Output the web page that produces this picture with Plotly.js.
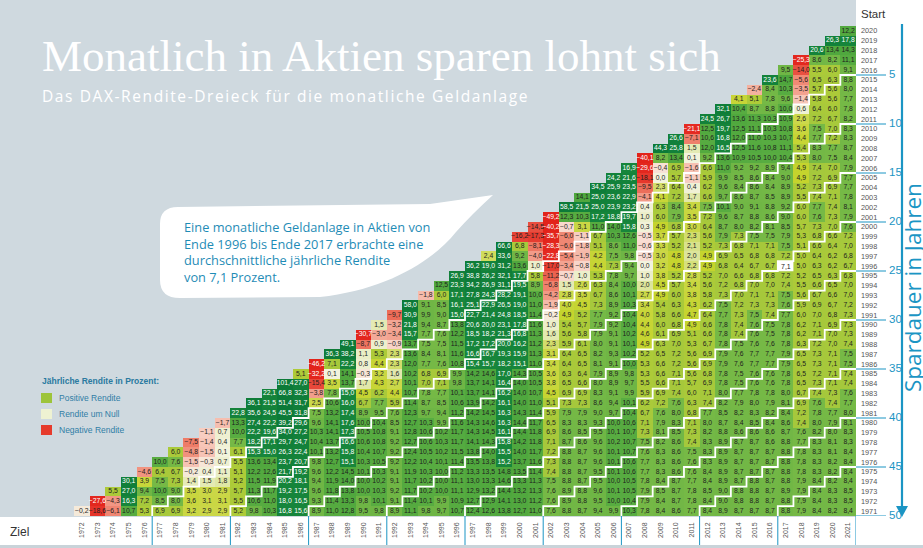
<!DOCTYPE html>
<html><head><meta charset="utf-8">
<script src="https://cdn.plot.ly/plotly-3.0.1.min.js"></script>
<style>html,body{margin:0;padding:0;background:#fff}#chart{width:923px;height:548px}</style>
</head><body><div id="chart"></div>
<script>
// ---- DATA: annual return (%) of a monthly savings plan, start year (row) -> end year (columns S+1 .. 2021)
const start2020 = [12.2];
const start2019 = [26.3, 17.8];
const start2018 = [20.6, 13.4, 14.3];
const start2017 = [-25.3, 8.6, 8.2, 11.1];
const start2016 = [9.5, -14.0, 5.5, 6.0, 9.1];
const start2015 = [23.6, 14.7, -5.6, 6.5, 6.3, 8.8];
const start2014 = [-2.4, 8.4, 10.3, -3.5, 5.7, 5.6, 8.0];
const start2013 = [4.1, 5.1, 7.8, 9.6, -1.4, 5.8, 5.6, 7.7];
const start2012 = [32.1, 10.4, 8.7, 8.8, 10.0, 0.6, 6.4, 6.0, 7.8];
const start2011 = [24.5, 26.7, 13.6, 11.3, 10.3, 10.9, 2.6, 7.2, 6.7, 8.2];
const start2010 = [-21.1, 12.5, 19.7, 12.5, 11.1, 10.3, 10.8, 3.6, 7.5, 7.0, 8.3];
const start2009 = [26.6, -7.1, 10.6, 16.8, 12.0, 11.0, 10.3, 10.7, 4.4, 7.7, 7.2, 8.3];
const start2008 = [44.3, 25.8, 1.5, 12.0, 16.5, 12.5, 11.6, 10.8, 11.1, 5.4, 8.3, 7.7, 8.7];
const start2007 = [-40.1, 8.2, 13.4, 0.1, 9.2, 13.6, 10.9, 10.5, 10.0, 10.4, 5.3, 8.0, 7.5, 8.4];
const start2006 = [16.9, -29.6, -0.4, 6.9, -1.6, 6.6, 11.0, 9.2, 9.2, 8.9, 9.4, 4.9, 7.4, 7.0, 7.9];
const start2005 = [24.2, 21.6, -18.1, 0.0, 5.7, -1.1, 5.9, 9.9, 8.5, 8.6, 8.4, 9.0, 4.9, 7.2, 6.9, 7.7];
const start2004 = [34.5, 25.9, 23.5, -9.5, 2.3, 6.4, 0.4, 6.2, 9.6, 8.4, 8.6, 8.4, 8.9, 5.2, 7.3, 6.9, 7.7];
const start2003 = [14.1, 25.0, 23.6, 22.9, -4.1, 4.1, 7.2, 1.7, 6.6, 9.7, 8.6, 8.7, 8.5, 8.9, 5.5, 7.4, 7.1, 7.8];
const start2002 = [58.5, 21.5, 25.0, 23.9, 23.2, 0.4, 6.3, 8.4, 3.4, 7.5, 10.1, 9.0, 9.1, 8.8, 9.2, 6.0, 7.7, 7.4, 8.1];
const start2001 = [-49.2, 12.3, 10.3, 17.2, 18.8, 19.7, 1.0, 6.0, 7.9, 3.5, 7.2, 9.6, 8.7, 8.8, 8.6, 9.0, 6.0, 7.6, 7.3, 7.9];
const start2000 = [-14.5, -40.2, -0.7, 3.1, 11.0, 14.0, 15.8, 0.3, 4.9, 6.8, 3.0, 6.4, 8.7, 8.0, 8.2, 8.1, 8.5, 5.7, 7.3, 7.0, 7.6];
const start1999 = [-16.2, -17.3, -35.7, -6.0, -1.1, 6.7, 10.3, 12.6, -0.5, 3.7, 5.7, 2.3, 5.6, 7.9, 7.3, 7.5, 7.5, 7.9, 5.3, 6.8, 6.6, 7.2];
const start1998 = [66.6, 6.8, -8.1, -28.3, -6.0, -1.8, 5.1, 8.6, 11.0, -0.6, 3.3, 5.2, 2.1, 5.2, 7.3, 6.8, 7.1, 7.1, 7.5, 5.1, 6.6, 6.4, 7.0];
const start1997 = [2.4, 33.6, 9.2, -4.0, -22.8, -5.4, -1.9, 4.2, 7.5, 9.8, -0.5, 3.0, 4.8, 2.0, 4.9, 6.9, 6.5, 6.8, 6.8, 7.2, 5.0, 6.4, 6.2, 6.8];
const start1996 = [36.2, 19.0, 31.2, 13.6, 1.0, -17.0, -3.4, -0.8, 4.4, 7.3, 9.4, 0.0, 3.2, 4.8, 2.2, 4.9, 6.8, 6.4, 6.7, 6.7, 7.1, 5.0, 6.3, 6.2, 6.7];
const start1995 = [26.9, 38.8, 26.2, 32.1, 17.7, 5.8, -11.2, -0.7, 1.0, 5.3, 7.8, 9.7, 1.0, 3.8, 5.2, 2.8, 5.2, 7.0, 6.6, 6.8, 6.8, 7.2, 5.2, 6.5, 6.3, 6.8];
const start1994 = [12.5, 23.3, 34.2, 26.9, 31.1, 19.5, 8.9, -6.8, 1.5, 2.6, 6.3, 8.4, 10.0, 2.0, 4.5, 5.7, 3.4, 5.6, 7.2, 6.8, 7.0, 7.0, 7.4, 5.5, 6.6, 6.5, 7.0];
const start1993 = [-1.8, 6.0, 17.1, 27.8, 24.3, 28.2, 19.1, 10.0, -4.2, 2.8, 3.5, 6.7, 8.6, 10.1, 2.7, 4.9, 6.0, 3.8, 5.8, 7.3, 7.0, 7.1, 7.1, 7.5, 5.6, 6.7, 6.6, 7.0];
const start1992 = [58.0, 9.1, 8.5, 16.1, 25.1, 22.9, 26.5, 19.0, 11.0, -1.9, 4.0, 4.5, 7.3, 8.9, 10.3, 3.4, 5.4, 6.3, 4.3, 6.2, 7.5, 7.2, 7.3, 7.3, 7.6, 5.9, 6.9, 6.7, 7.2];
const start1991 = [-9.7, 30.9, 9.9, 9.0, 15.0, 22.7, 21.4, 24.8, 18.5, 11.4, -0.2, 4.9, 5.2, 7.7, 9.2, 10.4, 4.0, 5.8, 6.6, 4.7, 6.4, 7.7, 7.3, 7.5, 7.4, 7.7, 6.0, 7.0, 6.8, 7.3];
const start1990 = [1.5, -3.2, 21.8, 9.4, 8.7, 13.8, 20.6, 20.0, 23.1, 17.8, 11.6, 1.0, 5.4, 5.7, 7.9, 9.2, 10.4, 4.4, 6.0, 6.8, 4.9, 6.6, 7.8, 7.4, 7.6, 7.5, 7.8, 6.2, 7.1, 6.9, 7.3];
const start1989 = [-30.7, -3.0, -3.4, 15.7, 7.7, 7.6, 12.2, 18.5, 18.2, 21.3, 16.8, 11.3, 1.6, 5.6, 5.8, 7.9, 9.1, 10.2, 4.6, 6.1, 6.9, 5.1, 6.6, 7.8, 7.4, 7.6, 7.5, 7.8, 6.2, 7.1, 7.0, 7.3];
const start1988 = [49.1, -8.7, 0.9, -0.9, 13.7, 7.5, 7.5, 11.5, 17.2, 17.2, 20.0, 16.2, 11.2, 2.3, 5.9, 6.1, 8.0, 9.1, 10.1, 4.9, 6.3, 7.0, 5.3, 6.7, 7.8, 7.5, 7.6, 7.6, 7.8, 6.3, 7.2, 7.0, 7.4];
const start1987 = [36.3, 38.2, 1.1, 5.3, 2.3, 13.6, 8.4, 8.1, 11.6, 16.6, 16.7, 19.3, 15.9, 11.3, 3.1, 6.4, 6.5, 8.2, 9.3, 10.2, 5.2, 6.5, 7.2, 5.6, 6.9, 7.9, 7.6, 7.7, 7.7, 7.9, 6.5, 7.3, 7.1, 7.5];
const start1986 = [-46.2, 7.1, 22.2, 0.8, 4.4, 2.3, 12.0, 7.7, 7.6, 10.8, 15.4, 15.7, 18.2, 15.1, 11.0, 3.4, 6.4, 6.5, 8.1, 9.1, 10.0, 5.3, 6.6, 7.2, 5.6, 6.9, 7.9, 7.6, 7.7, 7.7, 7.9, 6.5, 7.3, 7.1, 7.5];
const start1985 = [5.1, -32.2, 0.1, 14.1, -0.3, 3.2, 1.6, 10.2, 6.8, 6.9, 9.9, 14.2, 14.6, 17.0, 14.3, 10.5, 3.6, 6.3, 6.4, 7.9, 8.9, 9.8, 5.3, 6.6, 7.1, 5.6, 6.8, 7.8, 7.5, 7.6, 7.6, 7.8, 6.5, 7.2, 7.1, 7.4];
const start1984 = [101.4, 27.0, -15.4, 3.5, 13.7, 1.7, 4.3, 2.7, 10.1, 7.0, 7.1, 9.8, 13.7, 14.1, 16.4, 14.0, 10.5, 3.8, 6.5, 6.6, 8.0, 8.9, 9.7, 5.5, 6.6, 7.1, 5.7, 6.9, 7.8, 7.5, 7.6, 7.6, 7.8, 6.5, 7.3, 7.1, 7.4];
const start1983 = [22.1, 66.8, 32.3, -3.8, 7.8, 15.0, 4.5, 6.2, 4.4, 10.7, 7.8, 7.7, 10.1, 13.7, 14.1, 16.2, 14.0, 10.7, 4.5, 6.9, 6.9, 8.3, 9.1, 9.9, 5.9, 6.9, 7.4, 6.0, 7.1, 8.0, 7.7, 7.8, 7.8, 8.0, 6.7, 7.4, 7.3, 7.6];
const start1982 = [36.1, 21.5, 51.4, 31.7, 2.5, 10.6, 16.0, 6.7, 7.7, 5.9, 11.4, 8.7, 8.5, 10.6, 13.9, 14.2, 16.1, 14.0, 11.0, 5.1, 7.3, 7.3, 8.6, 9.4, 10.1, 6.2, 7.2, 7.6, 6.3, 7.4, 8.2, 7.9, 8.0, 7.9, 8.1, 6.9, 7.6, 7.4, 7.7];
const start1981 = [22.8, 35.6, 24.5, 45.5, 31.8, 7.5, 13.2, 17.4, 8.9, 9.5, 7.6, 12.3, 9.7, 9.4, 11.2, 14.2, 14.5, 16.3, 14.3, 11.4, 5.9, 7.9, 7.9, 9.0, 9.7, 10.4, 6.7, 7.6, 8.0, 6.8, 7.7, 8.5, 8.2, 8.3, 8.2, 8.4, 7.2, 7.8, 7.7, 8.0];
const start1980 = [-1.7, 13.3, 27.4, 22.2, 39.2, 29.6, 9.6, 14.1, 17.6, 10.0, 10.4, 8.5, 12.7, 10.3, 9.9, 11.6, 14.3, 14.6, 16.3, 14.4, 11.7, 6.5, 8.3, 8.3, 9.3, 10.0, 10.6, 7.1, 7.9, 8.3, 7.1, 8.0, 8.7, 8.4, 8.5, 8.4, 8.6, 7.4, 8.0, 7.9, 8.1];
const start1979 = [-1.1, 0.7, 10.0, 22.2, 19.6, 34.0, 27.2, 10.3, 14.1, 17.3, 10.5, 10.8, 9.1, 12.8, 10.6, 10.2, 11.7, 14.3, 14.5, 16.1, 14.4, 11.8, 6.9, 8.6, 8.5, 9.5, 10.1, 10.7, 7.3, 8.1, 8.5, 7.3, 8.2, 8.8, 8.6, 8.6, 8.6, 8.7, 7.6, 8.2, 8.0, 8.3];
const start1978 = [-7.5, -1.4, 0.4, 7.7, 18.2, 17.1, 29.7, 24.7, 10.4, 13.7, 16.6, 10.6, 10.8, 9.2, 12.7, 10.6, 10.3, 11.7, 14.1, 14.3, 15.8, 14.2, 11.8, 7.1, 8.7, 8.6, 9.6, 10.2, 10.7, 7.5, 8.2, 8.6, 7.4, 8.3, 8.9, 8.7, 8.7, 8.6, 8.8, 7.7, 8.3, 8.1, 8.3];
const start1977 = [6.0, -4.8, -1.5, 0.1, 6.1, 15.3, 15.0, 26.3, 22.4, 10.1, 13.2, 15.8, 10.4, 10.7, 9.2, 12.4, 10.5, 10.2, 11.5, 13.8, 14.0, 15.5, 14.0, 11.7, 7.2, 8.8, 8.7, 9.6, 10.1, 10.7, 7.6, 8.3, 8.6, 7.5, 8.3, 8.9, 8.7, 8.7, 8.7, 8.8, 7.8, 8.3, 8.1, 8.4];
const start1976 = [10.0, 7.6, -1.5, -0.3, 0.7, 5.5, 13.6, 13.4, 23.7, 20.7, 9.8, 12.7, 15.1, 10.3, 10.5, 9.2, 12.2, 10.4, 10.1, 11.4, 13.5, 13.8, 15.2, 13.7, 11.6, 7.3, 8.8, 8.7, 9.6, 10.1, 10.6, 7.7, 8.3, 8.6, 7.6, 8.3, 8.9, 8.7, 8.7, 8.7, 8.8, 7.8, 8.3, 8.2, 8.4];
const start1975 = [-4.6, 6.4, 6.7, -0.2, 0.4, 1.1, 5.1, 12.2, 12.6, 21.7, 19.2, 9.6, 12.2, 14.5, 10.1, 10.3, 9.1, 11.9, 10.3, 10.0, 11.2, 13.3, 13.5, 14.8, 13.5, 11.4, 7.4, 8.8, 8.7, 9.5, 10.1, 10.6, 7.7, 8.3, 8.6, 7.6, 8.4, 8.9, 8.7, 8.7, 8.7, 8.8, 7.8, 8.3, 8.2, 8.4];
const start1974 = [30.1, 3.9, 7.5, 7.3, 1.4, 1.5, 1.8, 5.2, 11.5, 11.9, 20.2, 18.1, 9.4, 11.9, 14.0, 10.0, 10.2, 9.1, 11.7, 10.2, 10.0, 11.1, 13.0, 13.3, 14.6, 13.3, 11.3, 7.5, 8.8, 8.7, 9.5, 10.0, 10.5, 7.8, 8.4, 8.7, 7.7, 8.4, 8.9, 8.7, 8.8, 8.7, 8.8, 7.9, 8.4, 8.2, 8.4];
const start1973 = [5.5, 27.0, 9.4, 10.0, 9.0, 3.5, 3.0, 2.9, 5.7, 11.3, 11.7, 19.2, 17.5, 9.6, 11.8, 13.8, 10.0, 10.3, 9.2, 11.7, 10.2, 10.0, 11.1, 12.9, 13.2, 14.4, 13.2, 11.3, 7.6, 8.9, 8.8, 9.6, 10.1, 10.5, 7.9, 8.5, 8.7, 7.8, 8.5, 9.0, 8.8, 8.8, 8.7, 8.9, 7.9, 8.4, 8.3, 8.5];
const start1972 = [-27.6, -4.3, 16.3, 7.2, 8.5, 8.0, 3.6, 3.1, 3.1, 5.5, 10.6, 11.0, 18.0, 16.5, 9.3, 11.4, 13.3, 9.8, 10.1, 9.1, 11.4, 10.1, 9.9, 10.9, 12.7, 12.9, 14.1, 13.0, 11.2, 7.6, 8.9, 8.8, 9.5, 10.0, 10.4, 7.9, 8.4, 8.7, 7.8, 8.4, 9.0, 8.8, 8.8, 8.7, 8.8, 7.9, 8.4, 8.3, 8.5];
const start1971 = [-0.2, -18.6, -6.1, 10.7, 5.3, 6.9, 6.9, 3.2, 2.9, 2.9, 5.2, 9.8, 10.3, 16.8, 15.6, 8.9, 11.0, 12.8, 9.5, 9.8, 8.9, 11.1, 9.8, 9.7, 10.7, 12.4, 12.6, 13.8, 12.7, 11.0, 7.6, 8.8, 8.7, 9.4, 9.9, 10.3, 7.8, 8.4, 8.6, 7.7, 8.4, 8.9, 8.7, 8.7, 8.7, 8.8, 7.9, 8.4, 8.2, 8.4];

const endYears = [];   // "Ziel" 1972..2021
for (let y = 1972; y <= 2021; y++) endYears.push(y);
const startYears = []; // "Start" 1971..2020
for (let y = 1971; y <= 2020; y++) startYears.push(y);
const durationTicks = [5, 10, 15, 20, 25, 30, 35, 40, 45, 50];
const highlight = {start: 1996, end: 2017};

const rowsByStart = {
  2020:start2020,2019:start2019,2018:start2018,2017:start2017,2016:start2016,2015:start2015,2014:start2014,
  2013:start2013,2012:start2012,2011:start2011,2010:start2010,2009:start2009,2008:start2008,2007:start2007,
  2006:start2006,2005:start2005,2004:start2004,2003:start2003,2002:start2002,2001:start2001,2000:start2000,
  1999:start1999,1998:start1998,1997:start1997,1996:start1996,1995:start1995,1994:start1994,1993:start1993,
  1992:start1992,1991:start1991,1990:start1990,1989:start1989,1988:start1988,1987:start1987,1986:start1986,
  1985:start1985,1984:start1984,1983:start1983,1982:start1982,1981:start1981,1980:start1980,1979:start1979,
  1978:start1978,1977:start1977,1976:start1976,1975:start1975,1974:start1974,1973:start1973,1972:start1972,
  1971:start1971
};

// ---- build matrix & labels
const z = startYears.map(s => endYears.map(e => e > s ? rowsByStart[s][e - s - 1] : null));
const fmt = v => v.toFixed(1).replace('.', ',').replace('-', '\u2212');
const lx = [], ly = [], lt = [], dx = [], dy = [], dt = [];
startYears.forEach(s => endYears.forEach(e => {
  if (e <= s) return;
  const v = rowsByStart[s][e - s - 1];
  if (v >= 15 || v <= -20) { lx.push(e); ly.push(s); lt.push(fmt(v)); }
  else { dx.push(e); dy.push(s); dt.push(fmt(v)); }
}));

// ---- colour scale (value -> colour), zmin/zmax clip
const ZMIN = -40, ZMAX = 40;
const stops = [
  [-40,'#e2231a'],[-20,'#e42a21'],[-15,'#e84b3c'],[-10,'#ec6a56'],[-5,'#f08e7a'],[-2,'#f5b6a6'],
  [-0.5,'#f9ddd3'],[0,'#f3f3de'],[1,'#ecefcb'],[2,'#dce59c'],[2.5,'#ccd84c'],[4.99,'#c5d42c'],
  [5,'#aecb38'],[7.49,'#a5c83c'],[7.5,'#76b946'],[9.99,'#6db545'],[10,'#58ac41'],[14.99,'#4da63d'],
  [15,'#17863b'],[40,'#0c7a38']
];
const colorscale = stops.map(([v,c]) => [(v - ZMIN) / (ZMAX - ZMIN), c]);

// ---- geometry helpers for decorations (pixel -> paper)
const L = 74, T = 26, W = 782, H = 490;
const px = x => (x - L) / W;
const py = y => (T + H - y) / H;

// staircase lines (iso-duration borders) in data coordinates
const stairTraces = [];
for (const d of durationTicks) {
  if (d >= 50) continue;
  const xs = [], ys = [];
  let x = 1971 + d + 0.5;
  xs.push(x); ys.push(1970.5);
  for (let s = 1971; s <= 2020 - d; s++) {
    xs.push(x); ys.push(s + 0.5);
    x += 1;
    xs.push(x); ys.push(s + 0.5);
  }
  stairTraces.push({type:'scatter', mode:'lines', x:xs, y:ys, line:{color:'#ffffff', width:1.8},
    hoverinfo:'skip', showlegend:false, cliponaxis:false});
}

const TEAL = '#1b95c4';
const shapes = [];
// white strips (right and bottom)
shapes.push({type:'rect', xref:'paper', yref:'paper', x0:px(856), x1:px(923), y0:py(548), y1:py(0), fillcolor:'#ffffff', line:{width:0}, layer:'below'});
shapes.push({type:'rect', xref:'paper', yref:'paper', x0:px(0), x1:px(923), y0:py(548), y1:py(517), fillcolor:'#ffffff', line:{width:0}, layer:'below'});
shapes.push({type:'rect', xref:'paper', yref:'paper', x0:px(0), x1:px(923), y0:py(548), y1:py(545), fillcolor:'#c9d3d9', line:{width:0}, layer:'below'});
// duration tick lines on the right + separators at the bottom
for (const d of durationTicks) {
  shapes.push({type:'line', xref:'paper', yref:'y', x0:1, x1:px(886), y0:2020.5 - d, y1:2020.5 - d, line:{color:TEAL, width:1}});
  shapes.push({type:'line', xref:'x', yref:'paper', x0:1971.5 + d, x1:1971.5 + d, y0:0, y1:py(545), line:{color:TEAL, width:1}});
}
// arrow of "Spardauer"
shapes.push({type:'line', xref:'paper', yref:'paper', x0:px(902), x1:px(902), y0:py(24), y1:py(508), line:{color:TEAL, width:2.2}});
shapes.push({type:'path', xref:'paper', yref:'paper',
  path:`M ${px(896)} ${py(506)} L ${px(908)} ${py(506)} L ${px(902)} ${py(517)} Z`, fillcolor:TEAL, line:{width:0}});
// highlighted cell
shapes.push({type:'rect', xref:'x', yref:'y', x0:highlight.end - 0.45, x1:highlight.end + 0.45,
  y0:highlight.start - 0.45, y1:highlight.start + 0.45, fillcolor:'#ffffff', line:{color:'#ffffff', width:1.5}, layer:'above'});
// callout bubble
const P = (x, y) => `${px(x)} ${py(y)}`;
shapes.push({type:'path', xref:'paper', yref:'paper', layer:'above', fillcolor:'#ffffff', line:{width:0},
  path:`M ${P(178,207)} L ${P(430,204)} L ${P(493,195)} Q ${P(472,214)} ${P(456,232)} C ${P(432,262)} ${P(385,290)} ${P(320,297)} L ${P(180,298)} Q ${P(160,298)} ${P(160,280)} L ${P(160,224)} Q ${P(160,207)} ${P(178,207)} Z`});
// legend squares
const legendItems = [['#9dc43a','Positive Rendite',398],['#eef2d2','Rendite um Null',414],['#e63b2c','Negative Rendite',430]];
for (const [c,, y] of legendItems) {
  shapes.push({type:'rect', xref:'paper', yref:'paper', x0:px(41), x1:px(52), y0:py(y+5), y1:py(y-5), fillcolor:c, line:{width:0}});
}

const ann = [];
const A = (x, y, text, font, extra) => ann.push(Object.assign({xref:'paper', yref:'paper', x:px(x), y:py(y), text,
  showarrow:false, xanchor:'left', yanchor:'middle', font}, extra || {}));
A(40, 56, 'Monatlich in Aktien sparen lohnt sich', {family:'Liberation Serif, DejaVu Serif, serif', size:45, color:'#ffffff'});
A(40, 96, 'Das DAX-Rendite-Dreieck für die monatliche Geldanlage', {family:'Open Sans, Liberation Sans, Arial, sans-serif', size:15.5, color:'#ffffff'});
A(182, 252, 'Eine monatliche Geldanlage in Aktien von<br>Ende 1996 bis Ende 2017 erbrachte eine<br>durchschnittliche jährliche Rendite<br>von 7,1 Prozent.',
  {family:'Open Sans, Liberation Sans, Arial, sans-serif', size:12.8, color:'#1f8cb6'}, {align:'left'});
A(40, 381, '<b>Jährliche Rendite in Prozent:</b>', {family:'Liberation Sans, Arial, sans-serif', size:8.5, color:'#2a7aa0'});
for (const [, t, y] of legendItems) A(57, y, t, {family:'Liberation Sans, Arial, sans-serif', size:8.5, color:'#2f7ea6'});
A(859, 14, 'Start', {family:'Liberation Sans, Arial, sans-serif', size:11.5, color:'#333333'});
A(8, 532, 'Ziel', {family:'Liberation Sans, Arial, sans-serif', size:12, color:'#333333'});
for (const d of durationTicks) A(887, T + d * 9.8 - 1, String(d), {family:'Liberation Sans, Arial, sans-serif', size:11.5, color:TEAL});
A(912, 287, 'Spardauer in Jahren', {family:'Open Sans, Liberation Sans, Arial, sans-serif', size:22.5, color:TEAL}, {textangle:-90, xanchor:'center'});
ann.push({xref:'x', yref:'y', x:highlight.end, y:highlight.start, text:fmt(rowsByStart[highlight.start][highlight.end - highlight.start - 1]),
  showarrow:false, font:{family:'Liberation Sans, Arial, sans-serif', size:7, color:'#1a1a1a'}});

const cellFont = 'Liberation Sans, Arial, sans-serif';
const data = [
  {type:'heatmap', x:endYears, y:startYears, z, zmin:ZMIN, zmax:ZMAX, colorscale, showscale:false,
   xgap:0, ygap:0, hoverinfo:'skip'},
  ...stairTraces,
  {type:'scatter', mode:'text', x:dx, y:dy, text:dt, textfont:{family:cellFont, size:6.8, color:'#1e1e1e'}, hoverinfo:'skip', showlegend:false},
  {type:'scatter', mode:'text', x:lx, y:ly, text:lt, textfont:{family:cellFont, size:6.8, color:'#ffffff'}, hoverinfo:'skip', showlegend:false}
];

const layout = {
  width:923, height:548, margin:{l:L, r:923 - L - W, t:T, b:548 - T - H},
  paper_bgcolor:'#cfd9df', plot_bgcolor:'rgba(0,0,0,0)', showlegend:false,
  xaxis:{range:[1971.5, 2021.5], tickvals:endYears, ticktext:endYears.map(String), tickangle:-90,
    tickfont:{family:'Liberation Sans, Arial, sans-serif', size:7, color:'#555555'},
    showgrid:false, zeroline:false, showline:false, ticks:'', ticklabelstandoff:4, fixedrange:true},
  yaxis:{range:[1970.5, 2020.5], side:'right', tickvals:startYears, ticktext:startYears.map(String),
    tickfont:{family:'Liberation Sans, Arial, sans-serif', size:7.3, color:'#555555'},
    showgrid:false, zeroline:false, showline:false, ticks:'', ticklabelstandoff:4, fixedrange:true},
  shapes, annotations:ann
};
Plotly.newPlot('chart', data, layout, {staticPlot:true, displayModeBar:false}).then(() => {
  document.querySelectorAll('.annotation-text').forEach(t => {
    if (t.textContent.indexOf('Das DAX') === 0) {
      const bb = t.getBBox();
      t.setAttribute('text-anchor', 'start');
      t.setAttribute('x', bb.x);
      t.style.letterSpacing = '1.6px';
    }
  });
});
</script></body></html>
